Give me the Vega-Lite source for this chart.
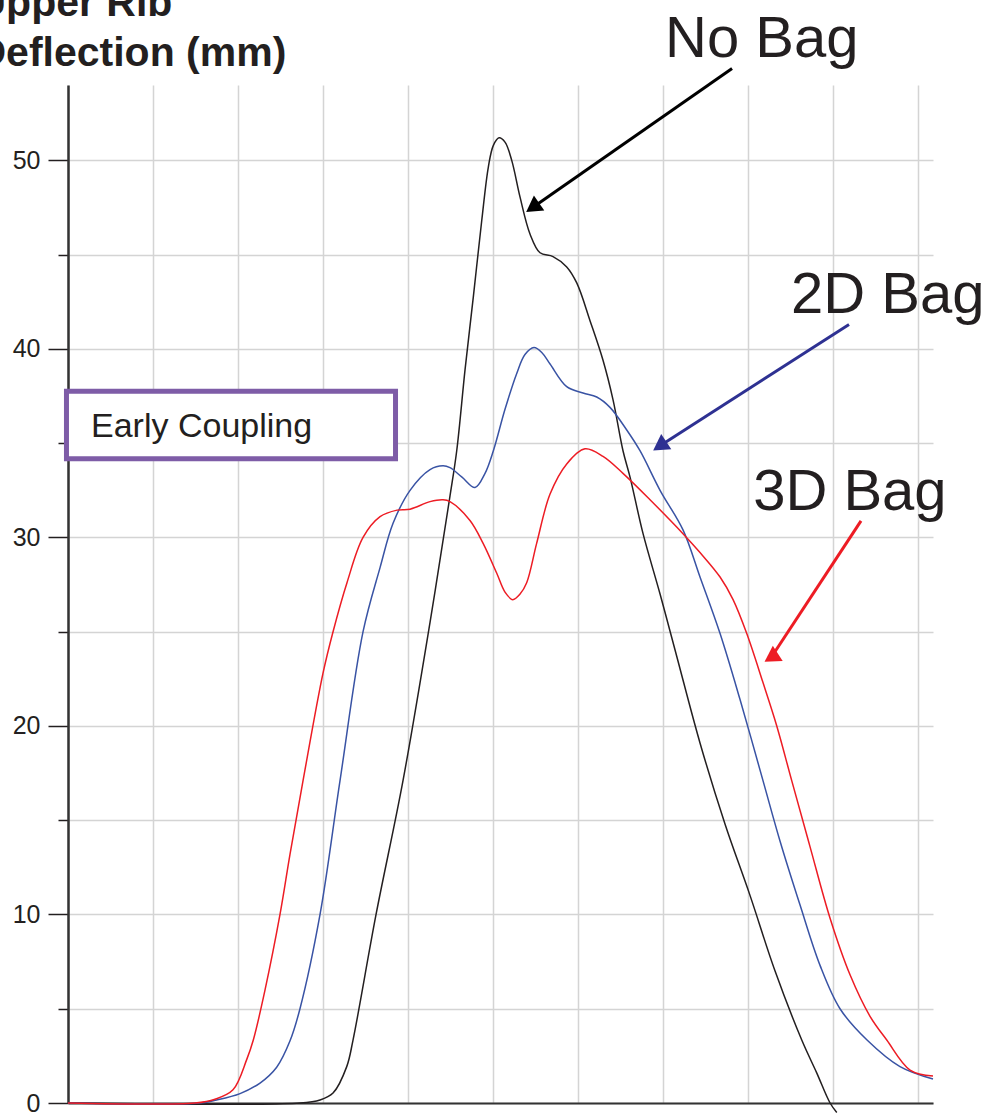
{
  "$schema": "https://vega.github.io/schema/vega-lite/v6.json",
  "width": 865,
  "height": 1018,
  "autosize": {"type": "none"},
  "padding": {"left": 68, "top": 85, "right": 57, "bottom": 11},
  "background": "white",
  "config": {"view": {"stroke": null}, "font": "Liberation Sans"},
  "datasets": {
    "curves": [
      {"series": "No Bag", "x": 0, "y": 0},
      {"series": "No Bag", "x": 2.729, "y": 0},
      {"series": "No Bag", "x": 2.965, "y": 0.16},
      {"series": "No Bag", "x": 3.118, "y": 0.53},
      {"series": "No Bag", "x": 3.279, "y": 1.93},
      {"series": "No Bag", "x": 3.353, "y": 3.34},
      {"series": "No Bag", "x": 3.624, "y": 10.0},
      {"series": "No Bag", "x": 3.941, "y": 17.1},
      {"series": "No Bag", "x": 4.259, "y": 25.5},
      {"series": "No Bag", "x": 4.494, "y": 32.2},
      {"series": "No Bag", "x": 4.573, "y": 34.6},
      {"series": "No Bag", "x": 4.671, "y": 38.9},
      {"series": "No Bag", "x": 4.768, "y": 42.75},
      {"series": "No Bag", "x": 4.867, "y": 46.8},
      {"series": "No Bag", "x": 4.945, "y": 49.65},
      {"series": "No Bag", "x": 5.004, "y": 50.8},
      {"series": "No Bag", "x": 5.071, "y": 51.2},
      {"series": "No Bag", "x": 5.141, "y": 50.97},
      {"series": "No Bag", "x": 5.220, "y": 50.0},
      {"series": "No Bag", "x": 5.318, "y": 48.05},
      {"series": "No Bag", "x": 5.435, "y": 46.1},
      {"series": "No Bag", "x": 5.553, "y": 45.1},
      {"series": "No Bag", "x": 5.706, "y": 44.9},
      {"series": "No Bag", "x": 5.867, "y": 44.35},
      {"series": "No Bag", "x": 5.985, "y": 43.5},
      {"series": "No Bag", "x": 6.141, "y": 41.5},
      {"series": "No Bag", "x": 6.294, "y": 39.4},
      {"series": "No Bag", "x": 6.412, "y": 37.3},
      {"series": "No Bag", "x": 6.529, "y": 34.6},
      {"series": "No Bag", "x": 6.612, "y": 33.2},
      {"series": "No Bag", "x": 6.765, "y": 30.2},
      {"series": "No Bag", "x": 6.965, "y": 27.0},
      {"series": "No Bag", "x": 7.161, "y": 23.7},
      {"series": "No Bag", "x": 7.435, "y": 19.1},
      {"series": "No Bag", "x": 7.729, "y": 14.8},
      {"series": "No Bag", "x": 8.024, "y": 11.0},
      {"series": "No Bag", "x": 8.318, "y": 7.0},
      {"series": "No Bag", "x": 8.632, "y": 3.34},
      {"series": "No Bag", "x": 8.808, "y": 1.6},
      {"series": "No Bag", "x": 8.965, "y": 0},
      {"series": "No Bag", "x": 9.044, "y": -0.5},
      {"series": "2D Bag", "x": 0, "y": 0},
      {"series": "2D Bag", "x": 1.553, "y": 0},
      {"series": "2D Bag", "x": 1.749, "y": 0.16},
      {"series": "2D Bag", "x": 2.024, "y": 0.5},
      {"series": "2D Bag", "x": 2.259, "y": 1.06},
      {"series": "2D Bag", "x": 2.455, "y": 1.9},
      {"series": "2D Bag", "x": 2.612, "y": 3.3},
      {"series": "2D Bag", "x": 2.729, "y": 5.0},
      {"series": "2D Bag", "x": 2.965, "y": 10.0},
      {"series": "2D Bag", "x": 3.200, "y": 17.1},
      {"series": "2D Bag", "x": 3.471, "y": 25.0},
      {"series": "2D Bag", "x": 3.671, "y": 28.4},
      {"series": "2D Bag", "x": 3.824, "y": 30.75},
      {"series": "2D Bag", "x": 4.024, "y": 32.5},
      {"series": "2D Bag", "x": 4.259, "y": 33.6},
      {"series": "2D Bag", "x": 4.412, "y": 33.8},
      {"series": "2D Bag", "x": 4.494, "y": 33.7},
      {"series": "2D Bag", "x": 4.635, "y": 33.2},
      {"series": "2D Bag", "x": 4.788, "y": 32.65},
      {"series": "2D Bag", "x": 4.906, "y": 33.4},
      {"series": "2D Bag", "x": 5.004, "y": 34.6},
      {"series": "2D Bag", "x": 5.141, "y": 36.8},
      {"series": "2D Bag", "x": 5.279, "y": 38.7},
      {"series": "2D Bag", "x": 5.376, "y": 39.7},
      {"series": "2D Bag", "x": 5.482, "y": 40.07},
      {"series": "2D Bag", "x": 5.576, "y": 39.8},
      {"series": "2D Bag", "x": 5.671, "y": 39.2},
      {"series": "2D Bag", "x": 5.867, "y": 38.0},
      {"series": "2D Bag", "x": 6.059, "y": 37.66},
      {"series": "2D Bag", "x": 6.220, "y": 37.45},
      {"series": "2D Bag", "x": 6.376, "y": 36.9},
      {"series": "2D Bag", "x": 6.573, "y": 35.7},
      {"series": "2D Bag", "x": 6.729, "y": 34.6},
      {"series": "2D Bag", "x": 6.965, "y": 32.5},
      {"series": "2D Bag", "x": 7.235, "y": 30.4},
      {"series": "2D Bag", "x": 7.435, "y": 27.9},
      {"series": "2D Bag", "x": 7.671, "y": 24.9},
      {"series": "2D Bag", "x": 7.906, "y": 21.4},
      {"series": "2D Bag", "x": 8.176, "y": 17.1},
      {"series": "2D Bag", "x": 8.376, "y": 13.9},
      {"series": "2D Bag", "x": 8.612, "y": 10.5},
      {"series": "2D Bag", "x": 8.847, "y": 7.3},
      {"series": "2D Bag", "x": 9.082, "y": 5.0},
      {"series": "2D Bag", "x": 9.400, "y": 3.34},
      {"series": "2D Bag", "x": 9.788, "y": 1.93},
      {"series": "2D Bag", "x": 10.176, "y": 1.27},
      {"series": "3D Bag", "x": 0, "y": 0},
      {"series": "3D Bag", "x": 1.494, "y": 0},
      {"series": "3D Bag", "x": 1.729, "y": 0.2},
      {"series": "3D Bag", "x": 1.941, "y": 0.7},
      {"series": "3D Bag", "x": 2.102, "y": 2.3},
      {"series": "3D Bag", "x": 2.180, "y": 3.34},
      {"series": "3D Bag", "x": 2.318, "y": 6.0},
      {"series": "3D Bag", "x": 2.494, "y": 10.0},
      {"series": "3D Bag", "x": 2.612, "y": 13.2},
      {"series": "3D Bag", "x": 2.765, "y": 17.1},
      {"series": "3D Bag", "x": 3.000, "y": 22.8},
      {"series": "3D Bag", "x": 3.118, "y": 25.0},
      {"series": "3D Bag", "x": 3.282, "y": 27.6},
      {"series": "3D Bag", "x": 3.471, "y": 30.0},
      {"series": "3D Bag", "x": 3.671, "y": 31.1},
      {"series": "3D Bag", "x": 3.871, "y": 31.45},
      {"series": "3D Bag", "x": 4.024, "y": 31.5},
      {"series": "3D Bag", "x": 4.259, "y": 31.9},
      {"series": "3D Bag", "x": 4.412, "y": 32.0},
      {"series": "3D Bag", "x": 4.494, "y": 31.9},
      {"series": "3D Bag", "x": 4.729, "y": 30.9},
      {"series": "3D Bag", "x": 4.882, "y": 29.7},
      {"series": "3D Bag", "x": 5.044, "y": 28.1},
      {"series": "3D Bag", "x": 5.141, "y": 27.1},
      {"series": "3D Bag", "x": 5.232, "y": 26.7},
      {"series": "3D Bag", "x": 5.318, "y": 27.0},
      {"series": "3D Bag", "x": 5.396, "y": 27.6},
      {"series": "3D Bag", "x": 5.514, "y": 29.7},
      {"series": "3D Bag", "x": 5.671, "y": 32.3},
      {"series": "3D Bag", "x": 5.867, "y": 33.9},
      {"series": "3D Bag", "x": 6.082, "y": 34.7},
      {"series": "3D Bag", "x": 6.294, "y": 34.3},
      {"series": "3D Bag", "x": 6.529, "y": 33.4},
      {"series": "3D Bag", "x": 6.847, "y": 32.0},
      {"series": "3D Bag", "x": 7.235, "y": 30.2},
      {"series": "3D Bag", "x": 7.435, "y": 29.2},
      {"series": "3D Bag", "x": 7.671, "y": 27.9},
      {"series": "3D Bag", "x": 7.824, "y": 26.7},
      {"series": "3D Bag", "x": 7.985, "y": 24.9},
      {"series": "3D Bag", "x": 8.176, "y": 22.3},
      {"series": "3D Bag", "x": 8.338, "y": 20.0},
      {"series": "3D Bag", "x": 8.514, "y": 17.1},
      {"series": "3D Bag", "x": 8.729, "y": 13.6},
      {"series": "3D Bag", "x": 8.965, "y": 9.8},
      {"series": "3D Bag", "x": 9.200, "y": 6.8},
      {"series": "3D Bag", "x": 9.435, "y": 4.6},
      {"series": "3D Bag", "x": 9.632, "y": 3.34},
      {"series": "3D Bag", "x": 9.906, "y": 1.75},
      {"series": "3D Bag", "x": 10.176, "y": 1.43}
    ],
    "annotations": [
      {"label": "No Bag", "tx": 7.024, "ty": 55.51, "ax": 7.812, "ay": 54.88, "hx": 5.466, "hy": 47.50},
      {"label": "2D Bag", "tx": 8.506, "ty": 41.89, "ax": 9.188, "ay": 41.30, "hx": 6.961, "hy": 34.85},
      {"label": "3D Bag", "tx": 8.06, "ty": 31.48, "ax": 9.329, "ay": 30.88, "hx": 8.272, "hy": 23.63}
    ],
    "box": [
      {"label": "Early Coupling", "x1": -0.018, "x2": 3.853, "y1": 34.17, "y2": 37.75, "tx": 0.271, "ty": 35.84}
    ]
  },
  "layer": [
    {
      "data": {"name": "curves"},
      "mark": {"type": "line", "strokeWidth": 1.5, "interpolate": "catmull-rom"},
      "encoding": {
        "x": {
          "field": "x", "type": "quantitative",
          "scale": {"domain": [0, 10.176], "nice": false, "zero": false},
          "axis": {
            "orient": "bottom", "values": [0, 1, 2, 3, 4, 5, 6, 7, 8, 9, 10],
            "grid": true, "gridColor": "#d4d4d4", "gridWidth": 1.5,
            "labels": false, "ticks": false, "title": null,
            "domainColor": "#333333", "domainWidth": 2
          }
        },
        "y": {
          "field": "y", "type": "quantitative",
          "scale": {"domain": [0, 54], "nice": false},
          "axis": {
            "values": [0, 5, 10, 15, 20, 25, 30, 35, 40, 45, 50],
            "grid": true, "gridColor": "#d4d4d4", "gridWidth": 1.5,
            "labelExpr": "datum.value % 10 === 0 ? datum.label : ''",
            "tickSize": {"condition": {"test": "datum.value % 10 === 0", "value": 20}, "value": 10},
            "tickColor": "#231f20", "tickWidth": 1.5,
            "labelFontSize": 25, "labelColor": "#231f20", "labelPadding": 8,
            "labelFont": "Liberation Sans",
            "domainColor": "#333333", "domainWidth": 2.5,
            "title": ["Upper Rib", "Deflection (mm)"],
            "titleAngle": 0, "titleAlign": "left", "titleBaseline": "alphabetic",
            "titleX": -92, "titleY": -70,
            "titleFontSize": 41, "titleFontWeight": "bold", "titleColor": "#231f20",
            "titleLineHeight": 50, "titleFont": "Liberation Sans"
          }
        },
        "color": {
          "field": "series", "type": "nominal",
          "scale": {"domain": ["No Bag", "2D Bag", "3D Bag"], "range": ["#231f20", "#3953a4", "#ed1c24"]},
          "legend": null
        }
      }
    },
    {
      "data": {"name": "box"},
      "mark": {"type": "rect", "fill": "white", "stroke": "#7e5ca7", "strokeWidth": 5},
      "encoding": {
        "x": {"field": "x1", "type": "quantitative"},
        "x2": {"field": "x2"},
        "y": {"field": "y1", "type": "quantitative"},
        "y2": {"field": "y2"}
      }
    },
    {
      "data": {"name": "box"},
      "mark": {"type": "text", "align": "left", "baseline": "middle", "fontSize": 34, "color": "#231f20", "font": "Liberation Sans"},
      "encoding": {
        "x": {"field": "tx", "type": "quantitative"},
        "y": {"field": "ty", "type": "quantitative"},
        "text": {"field": "label"}
      }
    },
    {
      "data": {"name": "annotations"},
      "mark": {"type": "rule", "strokeWidth": 3},
      "encoding": {
        "x": {"field": "ax", "type": "quantitative"},
        "y": {"field": "ay", "type": "quantitative"},
        "x2": {"field": "hx"},
        "y2": {"field": "hy"},
        "color": {
          "field": "label", "type": "nominal",
          "scale": {"domain": ["No Bag", "2D Bag", "3D Bag"], "range": ["#000000", "#2e3192", "#ed1c24"]},
          "legend": null
        }
      }
    },
    {
      "data": {"name": "annotations"},
      "mark": {"type": "point", "shape": "triangle-up", "filled": true, "size": 330, "opacity": 1},
      "encoding": {
        "x": {"field": "hx", "type": "quantitative"},
        "y": {"field": "hy", "type": "quantitative"},
        "angle": {
          "field": "label", "type": "nominal",
          "scale": {"domain": ["No Bag", "2D Bag", "3D Bag"], "range": [235.3, 237.1, 213.4]}
        },
        "color": {
          "field": "label", "type": "nominal",
          "scale": {"domain": ["No Bag", "2D Bag", "3D Bag"], "range": ["#000000", "#2e3192", "#ed1c24"]},
          "legend": null
        }
      }
    },
    {
      "data": {"name": "annotations"},
      "mark": {"type": "text", "align": "left", "baseline": "alphabetic", "fontSize": 58, "color": "#231f20", "font": "Liberation Sans"},
      "encoding": {
        "x": {"field": "tx", "type": "quantitative"},
        "y": {"field": "ty", "type": "quantitative"},
        "text": {"field": "label"}
      }
    }
  ],
  "resolve": {"scale": {"color": "independent"}}
}
